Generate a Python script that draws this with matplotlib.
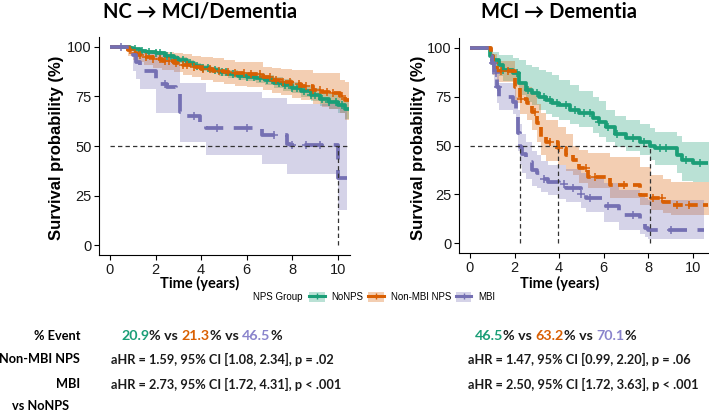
import numpy as np
import matplotlib
matplotlib.use("Agg")
import matplotlib.pyplot as plt
from matplotlib.patches import Patch
from matplotlib.lines import Line2D

plt.rcParams['font.family'] = ['Liberation Sans', 'DejaVu Sans']

# ---------------- data ----------------
groups = ["NoNPS", "Non-MBI NPS", "MBI"]
colors = ["#1b9e77", "#d95f02", "#7570b3"]

# Left panel: NC -> MCI/Dementia
L_green_t = [0, 0.9, 1.0, 1.3, 1.6, 2.0, 2.4, 2.8, 3.0, 3.4, 3.7, 4.0, 4.4, 4.8, 5.2, 5.6, 6.0, 6.4, 6.8, 7.2, 7.6, 8.0, 8.4, 8.8, 9.2, 9.6, 10.0, 10.3]
L_green_s = [100, 99.5, 99, 98, 97.5, 96.8, 95.5, 94.5, 93.4, 92, 90.5, 89.2, 88.3, 87.3, 86.2, 85.5, 85, 84.3, 83.3, 82, 80.8, 79.5, 77.8, 75.8, 73.5, 72.3, 70.8, 68.5]
L_green_lo = [100, 99, 98.3, 97.2, 96.6, 95.8, 94.4, 93.3, 92.1, 90.6, 89, 87.6, 86.6, 85.5, 84.3, 83.5, 82.8, 82, 80.8, 79.4, 78, 76.5, 74.6, 72.5, 70, 68.6, 66.8, 63.5]
L_green_hi = [100, 100, 99.6, 98.8, 98.4, 97.8, 96.6, 95.7, 94.7, 93.4, 92, 90.8, 90, 89.1, 88.1, 87.5, 87.2, 86.6, 85.8, 84.6, 83.6, 82.5, 81, 79.1, 77, 76, 74.8, 73.5]
L_green_cens = [1.1, 1.4, 1.7, 2.0, 2.2, 2.5, 2.7, 3.0, 3.2, 3.5, 3.8, 4.1, 4.3, 4.6, 4.9, 5.1, 5.4, 5.7, 6.0, 6.3, 6.6, 6.9, 7.1, 7.4, 7.7, 8.0, 8.2, 8.5, 8.8, 9.0, 9.3, 9.6, 9.9, 10.2]

L_orange_t = [0, 0.8, 1.0, 1.2, 1.5, 1.9, 2.3, 2.8, 3.2, 3.6, 4.0, 4.5, 5.0, 5.5, 6.0, 6.7, 7.1, 7.5, 8.0, 8.4, 8.9, 9.3, 9.6, 10.1, 10.3]
L_orange_s = [100, 98.5, 97, 96, 95, 93.8, 92.8, 92, 91, 90, 89, 88, 87.3, 86.7, 86.3, 85, 83.5, 82.5, 81.2, 80.3, 78.5, 77.5, 76.6, 75.2, 73.3]
L_orange_lo = [100, 95.5, 93.5, 92.3, 91, 89.5, 88.3, 87.3, 86, 84.7, 83.5, 82.3, 81.3, 80.5, 80, 78.5, 76.8, 75.7, 74, 73, 71, 69.8, 68.5, 66.5, 63]
L_orange_hi = [100, 100, 99.5, 99, 98.5, 98, 97.5, 97, 96.3, 95.5, 95, 94.2, 93.5, 92.6, 92.3, 90, 89.5, 88.8, 88.4, 88.4, 86.7, 86.7, 86.7, 83.3, 82.5]
L_orange_cens = [0.9, 1.1, 1.3, 1.6, 1.9, 2.2, 2.4, 2.6, 2.9, 3.2, 3.4, 3.7, 4.1, 4.4, 4.8, 5.2, 5.5, 5.9, 6.2, 6.6, 7.0, 7.3, 7.6, 7.9, 8.3, 8.6, 8.9, 9.2, 9.5, 9.8, 10.2]

L_purple_t = [0, 1.0, 1.15, 1.3, 2.0, 2.5, 2.9, 3.07, 3.3, 3.95, 4.1, 4.2, 6.65, 7.75, 7.9, 10.0]
L_purple_s = [100, 96, 92.5, 88, 81.5, 80, 76, 67, 65, 62, 60.5, 59.3, 55.3, 51, 50.3, 33.8]
L_purple_lo = [100, 88, 84, 79, 66.6, 66.6, 66.6, 52, 52, 52, 52, 45.5, 41, 36, 36, 17.7]
L_purple_hi = [100, 99, 98, 97, 96, 95, 94, 82, 82, 82, 82, 77, 74, 71, 71, 71]
L_purple_cens = [0.5, 2.4, 3.7, 4.7, 6.0, 7.2, 8.0, 8.6, 9.2]
L_end = [10.5, 10.5, 10.4]

# Right panel: MCI -> Dementia
R_green_t = [0, 0.9, 1.05, 1.3, 1.5, 1.95, 2.2, 2.5, 2.8, 3.1, 3.4, 3.7, 4.0, 4.5, 4.9, 5.5, 5.8, 6.1, 6.5, 7.0, 7.6, 8.07, 8.3, 9.3, 9.5, 10.0]
R_green_s = [100, 96, 94, 91, 88.7, 87, 82, 78.5, 77, 75, 73.5, 72, 70.5, 68.2, 66.5, 64, 62, 59.6, 56, 53.7, 52, 49.8, 48.5, 45, 42.5, 41]
R_green_lo = [100, 91, 89, 85.5, 83, 81, 76, 72.5, 70.5, 68, 66, 64.5, 63, 61, 59.5, 56.5, 54.5, 52, 49, 47, 45, 42.5, 40, 36, 32, 31.4]
R_green_hi = [100, 100, 98, 96.4, 96.4, 95, 94, 91, 90, 88.7, 87.5, 86, 83.5, 81, 78, 75, 73, 68, 65, 63, 61, 59, 57, 55, 52, 52]
R_green_cens = [1.1, 1.5, 2.1, 2.6, 3.0, 3.3, 3.6, 3.9, 4.3, 4.7, 5.1, 5.4, 5.8, 6.2, 6.6, 7.3, 7.8, 8.5, 8.8, 9.7, 10.3]

R_orange_t = [0, 0.95, 1.05, 1.2, 2.0, 2.24, 2.54, 2.77, 3.0, 3.2, 3.4, 3.95, 4.3, 4.6, 4.9, 5.3, 6.3, 7.6, 8.1, 8.65, 9.0]
R_orange_s = [100, 96, 92, 88, 80, 74, 71.6, 67.3, 61.4, 54.5, 52, 48.5, 45, 42.5, 38.3, 34, 29.7, 24.6, 23.2, 21.3, 19.5]
R_orange_lo = [100, 91, 86, 82.7, 72, 66, 63, 58, 52, 45, 42, 40, 37, 35, 31, 28, 23, 19.5, 17, 15.5, 14.4]
R_orange_hi = [100, 100, 97, 93, 88, 81.8, 80, 77, 71, 66.5, 63, 59.7, 56, 50, 47.7, 46, 44.3, 39, 35, 33, 31.5]
R_orange_cens = [1.1, 1.4, 1.7, 2.3, 2.9, 3.6, 4.0, 5.2, 5.6, 6.9, 8.2, 8.6, 9.3, 9.8]

R_purple_t = [0, 0.9, 1.0, 1.1, 1.2, 1.3, 1.94, 2.05, 2.15, 2.24, 2.35, 2.5, 2.8, 3.0, 3.2, 3.5, 4.0, 4.3, 5.0, 5.2, 6.0, 6.7, 7.6, 7.85, 8.0]
R_purple_s = [100, 96, 92, 87, 80, 75, 72.5, 64.8, 56.3, 49.4, 45.5, 41.5, 37.4, 35.7, 33, 31.5, 30.2, 28, 25.4, 22.9, 19, 14.3, 10.5, 8, 7]
R_purple_lo = [100, 91, 86, 80, 72, 68, 66, 56, 47, 40, 36, 33, 29.5, 28, 26, 24.5, 22.5, 21, 18, 16, 11, 7, 4.5, 3, 2.4]
R_purple_hi = [100, 100, 97, 94, 88, 82, 80, 75, 68, 61, 56, 52, 47, 45, 42, 40, 40, 38, 36, 34, 31, 27, 24, 23, 22]
R_purple_cens = [1.05, 1.15, 1.25, 3.3, 4.2, 4.6, 5.0, 5.4, 6.2, 7.3, 9.0]
R_end = [10.7, 10.7, 10.5]

titles = ["NC \u2192 MCI/Dementia", "MCI \u2192 Dementia"]
xticks = [0, 2, 4, 6, 8, 10]
yticks = [0, 25, 50, 75, 100]

event_L = ["20.9", "21.3", "46.5"]
event_R = ["46.5", "63.2", "70.1"]
hr_L = ["aHR = 1.59, 95% CI [1.08, 2.34], p = .02", "aHR = 2.73, 95% CI [1.72, 4.31], p < .001"]
hr_R = ["aHR = 1.47, 95% CI [0.99, 2.20], p = .06", "aHR = 2.50, 95% CI [1.72, 3.63], p < .001"]
row_labels = ["% Event", "Non-MBI NPS", "MBI"]

# ---------------- figure ----------------
W, H = 709, 412
fig = plt.figure(figsize=(W / 100, H / 100), dpi=100)

def fx(px):
    return px / W

def fy(py):
    return 1 - py / H

axL = fig.add_axes([fx(99), fy(255), fx(251), 218 / H])
axR = fig.add_axes([fx(459), fy(253), fx(249), 215 / H])
axL.set_xlim(-0.48, 10.53)
axR.set_xlim(-0.49, 10.67)

styles = [dict(ls='-'), dict(ls=(0, (2.6, 1.4))), dict(ls=(0, (5, 2.8)))]

panels = [
    (axL, [(L_green_t, L_green_s, L_green_lo, L_green_hi, L_green_cens),
           (L_orange_t, L_orange_s, L_orange_lo, L_orange_hi, L_orange_cens),
           (L_purple_t, L_purple_s, L_purple_lo, L_purple_hi, L_purple_cens)], L_end),
    (axR, [(R_green_t, R_green_s, R_green_lo, R_green_hi, R_green_cens),
           (R_orange_t, R_orange_s, R_orange_lo, R_orange_hi, R_orange_cens),
           (R_purple_t, R_purple_s, R_purple_lo, R_purple_hi, R_purple_cens)], R_end),
]

for pi, (ax, curves, ends) in enumerate(panels):
    medians = []
    for gi, (t, s, lo, hi, cens) in enumerate(curves):
        te = list(t) + [ends[gi]]
        loe = list(lo) + [lo[-1]]
        hie = list(hi) + [hi[-1]]
        ax.fill_between(te, loe, hie, step='post', color=colors[gi], alpha=0.3, lw=0)
    for gi, (t, s, lo, hi, cens) in enumerate(curves):
        te = list(t) + [ends[gi]]
        se = list(s) + [s[-1]]
        ax.step(te, se, where='post', color=colors[gi], lw=2.7, solid_capstyle='butt',
                dash_capstyle='butt', **styles[gi])
        ta = np.array(t)
        sa = np.array(s)
        cy = [sa[np.searchsorted(ta, c, side='right') - 1] for c in cens]
        ax.plot(cens, cy, ls='none', marker='+', ms=6, mew=1.1, color=colors[gi])
        below = [tt for tt, ss in zip(t, s) if ss <= 50]
        if below:
            medians.append(below[0])
    # median lines
    hend = ax.get_xlim()[1] if pi == 0 else max(medians)
    ax.plot([0, hend], [50, 50], color='#333333', lw=0.9, ls=(0, (3.5, 2.5)), zorder=5)
    for m in medians:
        ax.plot([m, m], [0, 50], color='#333333', lw=0.9, ls=(0, (3.5, 2.5)), zorder=5)

    ax.set_ylim(-5, 105)
    ax.set_xticks(xticks)
    ax.set_yticks(yticks)
    ax.tick_params(axis='both', labelsize=10.5, length=3.5, width=0.8, color='black',
                   labelcolor='#1a1a1a', pad=2)
    for side in ['top', 'right']:
        ax.spines[side].set_visible(False)
    for side in ['left', 'bottom']:
        ax.spines[side].set_linewidth(0.8)
        ax.spines[side].set_color('black')

bold = dict(family=['Lato', 'DejaVu Sans'], fontweight='bold')

# titles
fig.text(fx(200), fy(12), titles[0], ha='center', va='center', fontsize=14.5, **bold)
fig.text(fx(559), fy(12), titles[1], ha='center', va='center', fontsize=14.5, **bold)
# axis labels
for xc in [200, 560]:
    fig.text(fx(xc), fy(283), "Time (years)", ha='center', va='center', fontsize=10.5, **bold)
for xc in [57, 418]:
    fig.text(fx(xc), fy(148), "Survival probability (%)", ha='center', va='center', rotation=90,
             fontsize=12, fontweight='bold', family=['Liberation Sans', 'DejaVu Sans'])

# legend
fig.text(fx(253), fy(297), "NPS Group", ha='left', va='center', fontsize=7)
handles = []
for gi in range(3):
    handles.append((Patch(facecolor=colors[gi], alpha=0.3, lw=0),
                    Line2D([], [], color=colors[gi], lw=2.2, marker='+', ms=5, mew=1)))
fig.legend(handles, groups, loc='center left', bbox_to_anchor=(fx(309), fy(297)), ncol=3,
           frameon=False, fontsize=7, handlelength=1.6, handleheight=1.3, handletextpad=0.7,
           columnspacing=0.5, borderpad=0, borderaxespad=0)

# bottom text
efs = 10.3
tfs = 9.2
row_y = [336, 359, 384]
for lab, yy in zip(row_labels, row_y):
    fig.text(fx(80), fy(yy), lab, ha='right', va='center', fontsize=tfs, **bold)
fig.text(fx(12), fy(406), "vs NoNPS", ha='left', va='center', fontsize=tfs, **bold)


def rainbow(x0, y0, parts):
    t = fig.text(x0, y0, parts[0][0], color=parts[0][1], ha='left', va='center', fontsize=efs, **bold)
    for s, c in parts[1:]:
        t = axL.annotate(s, xy=(1, 0.5), xycoords=t, ha='left', va='center', color=c,
                         fontsize=efs, annotation_clip=False, **bold)


for ev, xs in [(event_L, 121), (event_R, 475)]:
    rainbow(fx(xs), fy(336), [(ev[0], colors[0]), ("% vs ", '#1a1a1a'), (ev[1], colors[1]),
                              ("% vs ", '#1a1a1a'), (ev[2], '#8a84cc'), ("%", '#1a1a1a')])

for hrs, xs in [(hr_L, 111), (hr_R, 468)]:
    for s, yy in zip(hrs, row_y[1:]):
        fig.text(fx(xs), fy(yy), s, ha='left', va='center', fontsize=tfs, color='#1a1a1a', **bold)

fig.savefig("out.png", dpi=100)
